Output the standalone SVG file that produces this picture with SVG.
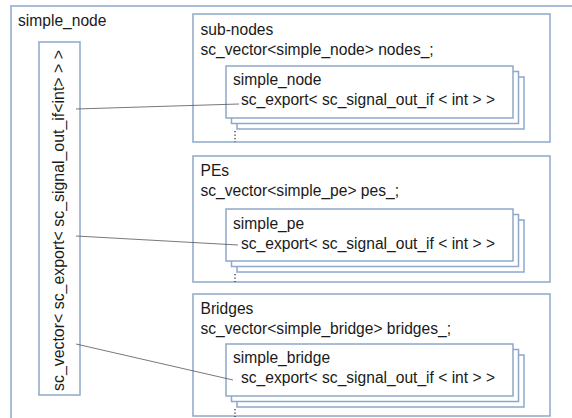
<svg xmlns="http://www.w3.org/2000/svg" width="572" height="418" viewBox="0 0 572 418">
<style>
.box{fill:#fff;stroke:#8EA8C9;stroke-width:1.5}
.t{font-family:"Liberation Sans",Arial,sans-serif;font-size:15.6px;fill:#1a1a1a}
.c{stroke:#555;stroke-width:0.8;fill:none}
.dots{stroke:#333;stroke-width:1.3;stroke-dasharray:1.3 2.2;fill:none}
</style>
<rect width="572" height="418" fill="#fff"/>
<g id="simple_node">
<rect class="box" x="11" y="6" width="600" height="440"/>
<text class="t" x="18" y="26">simple_node</text>
</g>
<g id="export_vector">
<rect class="box" x="39" y="42" width="41" height="353"/>
<text class="t" style="font-size:15.9px" transform="translate(64,391) rotate(-90)">sc_vector&lt; sc_export&lt; sc_signal_out_if&lt;int&gt; &gt; &gt;</text>
</g>
<g id="sub-nodes">
<rect class="box" x="193" y="14" width="357" height="128"/>
<text class="t" x="200.5" y="35">sub-nodes</text>
<text class="t" x="200.5" y="55">sc_vector&lt;simple_node&gt; nodes_;</text>
<rect class="box" x="237" y="77" width="287" height="52"/>
<rect class="box" x="231.5" y="71.5" width="287" height="52"/>
<rect class="box" x="226" y="66" width="287" height="52"/>
<text class="t" x="233" y="85">simple_node</text>
<text class="t" x="241" y="105">sc_export&lt; sc_signal_out_if &lt; int &gt; &gt;</text>
<line class="dots" x1="235" y1="131" x2="235" y2="142"/>
</g>
<g id="PEs">
<rect class="box" x="193" y="156" width="357" height="126"/>
<text class="t" x="200.5" y="176">PEs</text>
<text class="t" x="200.5" y="196">sc_vector&lt;simple_pe&gt; pes_;</text>
<rect class="box" x="237" y="220" width="287" height="52"/>
<rect class="box" x="231.5" y="214.5" width="287" height="52"/>
<rect class="box" x="226" y="209" width="287" height="52"/>
<text class="t" x="233" y="229">simple_pe</text>
<text class="t" x="241" y="249">sc_export&lt; sc_signal_out_if &lt; int &gt; &gt;</text>
<line class="dots" x1="235" y1="274" x2="235" y2="282"/>
</g>
<g id="Bridges">
<rect class="box" x="193" y="294" width="357" height="122"/>
<text class="t" x="200.5" y="314">Bridges</text>
<text class="t" x="200.5" y="334">sc_vector&lt;simple_bridge&gt; bridges_;</text>
<rect class="box" x="237" y="355" width="287" height="52"/>
<rect class="box" x="231.5" y="349.5" width="287" height="52"/>
<rect class="box" x="226" y="344" width="287" height="52"/>
<text class="t" x="233" y="363">simple_bridge</text>
<text class="t" x="241" y="383">sc_export&lt; sc_signal_out_if &lt; int &gt; &gt;</text>
<line class="dots" x1="235" y1="409" x2="235" y2="417"/>
</g>
<g id="connectors">
<line class="c" x1="76" y1="109" x2="239" y2="104"/>
<line class="c" x1="76" y1="236" x2="238" y2="245"/>
<line class="c" x1="76" y1="344" x2="233" y2="380"/>
</g>
</svg>
